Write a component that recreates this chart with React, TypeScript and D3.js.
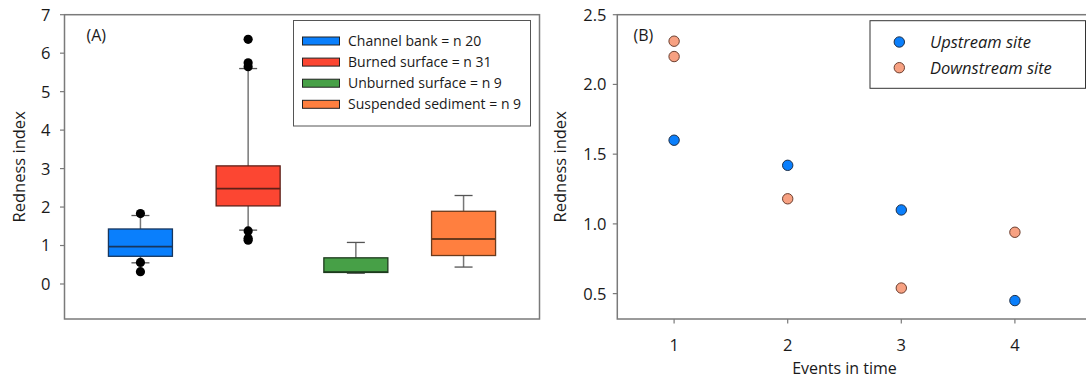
import React from "react";
import * as d3 from "d3";

// ---- Panel A: box plot summaries ----
const groups = ["Channel bank", "Burned surface", "Unburned surface", "Suspended sediment"];
const groupCounts = [20, 31, 9, 9];
const groupFill = ["#0a7ffc", "#fc4632", "#47a047", "#ff7f3f"];
const groupStroke = ["#17365e", "#5e2018", "#1d3a1d", "#6a3a1c"];
const lowWhisker = [0.55, 1.4, 0.28, 0.44];
const q1 = [0.72, 2.03, 0.3, 0.74];
const median = [0.97, 2.48, 0.31, 1.17];
const q3 = [1.43, 3.07, 0.68, 1.89];
const highWhisker = [1.78, 5.6, 1.08, 2.3];
const outliers = [
  [1.83, 0.56, 0.32],
  [6.36, 5.75, 5.65, 1.38, 1.19, 1.14],
  [],
  [],
];
const yTicksA = [0, 1, 2, 3, 4, 5, 6, 7];

// ---- Panel B: redness by event ----
const events = [1, 2, 3, 4];
const upstream = [1.6, 1.42, 1.1, 0.45];
const downstream = [
  [2.31, 2.2],
  [1.18],
  [0.54],
  [0.94],
];
const yTicksB = [0.5, 1.0, 1.5, 2.0, 2.5];

const FONT = "'Open Sans', 'Noto Sans', sans-serif";
const AXIS = "#7a7a7a";
const INK = "#1a1a1a";

export default function App() {
  // Panel A scales
  const aLeft = 64.5, aRight = 539.5, top = 14.7, bottom = 319;
  const xA = d3.scalePoint<string>().domain(groups).range([aLeft, aRight]).padding(0.705);
  const yA = d3.scaleLinear().domain([-0.91, 7]).range([bottom, top]);
  const boxW = 64;
  const capW = 18;

  // Panel B scales
  const bLeft = 617.3, bRightEdge = 1092;
  const xB = d3.scaleLinear().domain([0.5, 4.5]).range([bLeft, 1071.7]);
  const yB = d3.scaleLinear().domain([0.318, 2.5]).range([bottom, top]);

  const blue = "#0a7ffc";
  const salmon = "#f7a182";

  return (
    <svg
      width={1086}
      height={381}
      style={{ position: "absolute", left: 0, top: 0, background: "#fff" }}
      fontFamily={FONT}
    >
      {/* ===== Panel A ===== */}
      <rect x={aLeft} y={top} width={aRight - aLeft} height={bottom - top} fill="none" stroke={AXIS} strokeWidth={1.5} />
      {yTicksA.map((t) => (
        <g key={t}>
          <line x1={aLeft - 4.5} x2={aLeft} y1={yA(t)} y2={yA(t)} stroke={AXIS} strokeWidth={1.2} />
          <text x={50.5} y={yA(t)} dy="0.36em" textAnchor="end" fontSize={16.5} fill={INK}>
            {t}
          </text>
        </g>
      ))}
      <text transform={`translate(19,${(top + bottom) / 2}) rotate(-90)`} textAnchor="middle" dy="0.35em" fontSize={16.5} fill={INK}>
        Redness index
      </text>
      <text x={86.5} y={41} fontSize={16} fill={INK}>(A)</text>

      {groups.map((g, i) => {
        const cx = xA(g) as number;
        return (
          <g key={g}>
            <line x1={cx} x2={cx} y1={yA(highWhisker[i])} y2={yA(q3[i])} stroke="#777" strokeWidth={1.5} />
            <line x1={cx} x2={cx} y1={yA(q1[i])} y2={yA(lowWhisker[i])} stroke="#777" strokeWidth={1.5} />
            <line x1={cx - capW / 2} x2={cx + capW / 2} y1={yA(highWhisker[i])} y2={yA(highWhisker[i])} stroke="#555" strokeWidth={1.3} />
            <line x1={cx - capW / 2} x2={cx + capW / 2} y1={yA(lowWhisker[i])} y2={yA(lowWhisker[i])} stroke="#555" strokeWidth={1.3} />
            <rect
              x={cx - boxW / 2}
              y={yA(q3[i])}
              width={boxW}
              height={yA(q1[i]) - yA(q3[i])}
              fill={groupFill[i]}
              stroke={groupStroke[i]}
              strokeWidth={1.3}
            />
            <line x1={cx - boxW / 2} x2={cx + boxW / 2} y1={yA(median[i])} y2={yA(median[i])} stroke={groupStroke[i]} strokeWidth={1.8} />
            {outliers[i].map((v, j) => (
              <circle key={j} cx={cx} cy={yA(v)} r={4.6} fill="#000" />
            ))}
          </g>
        );
      })}

      {/* Panel A legend */}
      <rect x={293.5} y={20.5} width={237} height={105.5} fill="#fff" stroke="#555" strokeWidth={1} />
      {groups.map((g, i) => {
        const cy = 41 + i * 21.1;
        return (
          <g key={g}>
            <rect x={302.5} y={cy - 4} width={37} height={8} fill={groupFill[i]} stroke="#222" strokeWidth={1} />
            <text x={348} y={cy} dy="0.36em" fontSize={14} fill={INK}>
              {`${g} = n ${groupCounts[i]}`}
            </text>
          </g>
        );
      })}

      {/* ===== Panel B ===== */}
      <rect x={bLeft} y={top} width={bRightEdge - bLeft} height={bottom - top} fill="none" stroke={AXIS} strokeWidth={1.5} />
      {yTicksB.map((t) => (
        <g key={t}>
          <line x1={bLeft - 4.5} x2={bLeft} y1={yB(t)} y2={yB(t)} stroke={AXIS} strokeWidth={1.2} />
          <text x={606.5} y={yB(t)} dy="0.36em" textAnchor="end" fontSize={16.5} fill={INK}>
            {d3.format(".1f")(t)}
          </text>
        </g>
      ))}
      {events.map((e) => (
        <g key={e}>
          <line x1={xB(e)} x2={xB(e)} y1={bottom} y2={bottom + 4.5} stroke={AXIS} strokeWidth={1.2} />
          <text x={xB(e)} y={345} dy="0.36em" textAnchor="middle" fontSize={16.5} fill={INK}>
            {e}
          </text>
        </g>
      ))}
      <text transform={`translate(560,${(top + bottom) / 2}) rotate(-90)`} textAnchor="middle" dy="0.35em" fontSize={16.5} fill={INK}>
        Redness index
      </text>
      <text x={844.5} y={368} dy="0.36em" textAnchor="middle" fontSize={16} fill={INK}>
        Events in time
      </text>
      <text x={633.5} y={41} fontSize={16} fill={INK}>(B)</text>

      {events.map((e, i) => (
        <g key={e}>
          {downstream[i].map((v, j) => (
            <circle key={j} cx={xB(e)} cy={yB(v)} r={5.2} fill={salmon} stroke="#6b3f30" strokeWidth={1} />
          ))}
          <circle cx={xB(e)} cy={yB(upstream[i])} r={5.2} fill={blue} stroke="#1e2f48" strokeWidth={1} />
        </g>
      ))}

      {/* Panel B legend */}
      <rect x={870} y={20.7} width={215.5} height={67.6} fill="#fff" stroke="#333" strokeWidth={1} />
      <circle cx={899.3} cy={42} r={5.2} fill={blue} stroke="#1e2f48" strokeWidth={1} />
      <text x={930} y={42} dy="0.36em" fontSize={16.5} fontStyle="italic" fill={INK}>Upstream site</text>
      <circle cx={899.3} cy={67.7} r={5.2} fill={salmon} stroke="#6b3f30" strokeWidth={1} />
      <text x={930} y={67.7} dy="0.36em" fontSize={16.5} fontStyle="italic" fill={INK}>Downstream site</text>
    </svg>
  );
}
